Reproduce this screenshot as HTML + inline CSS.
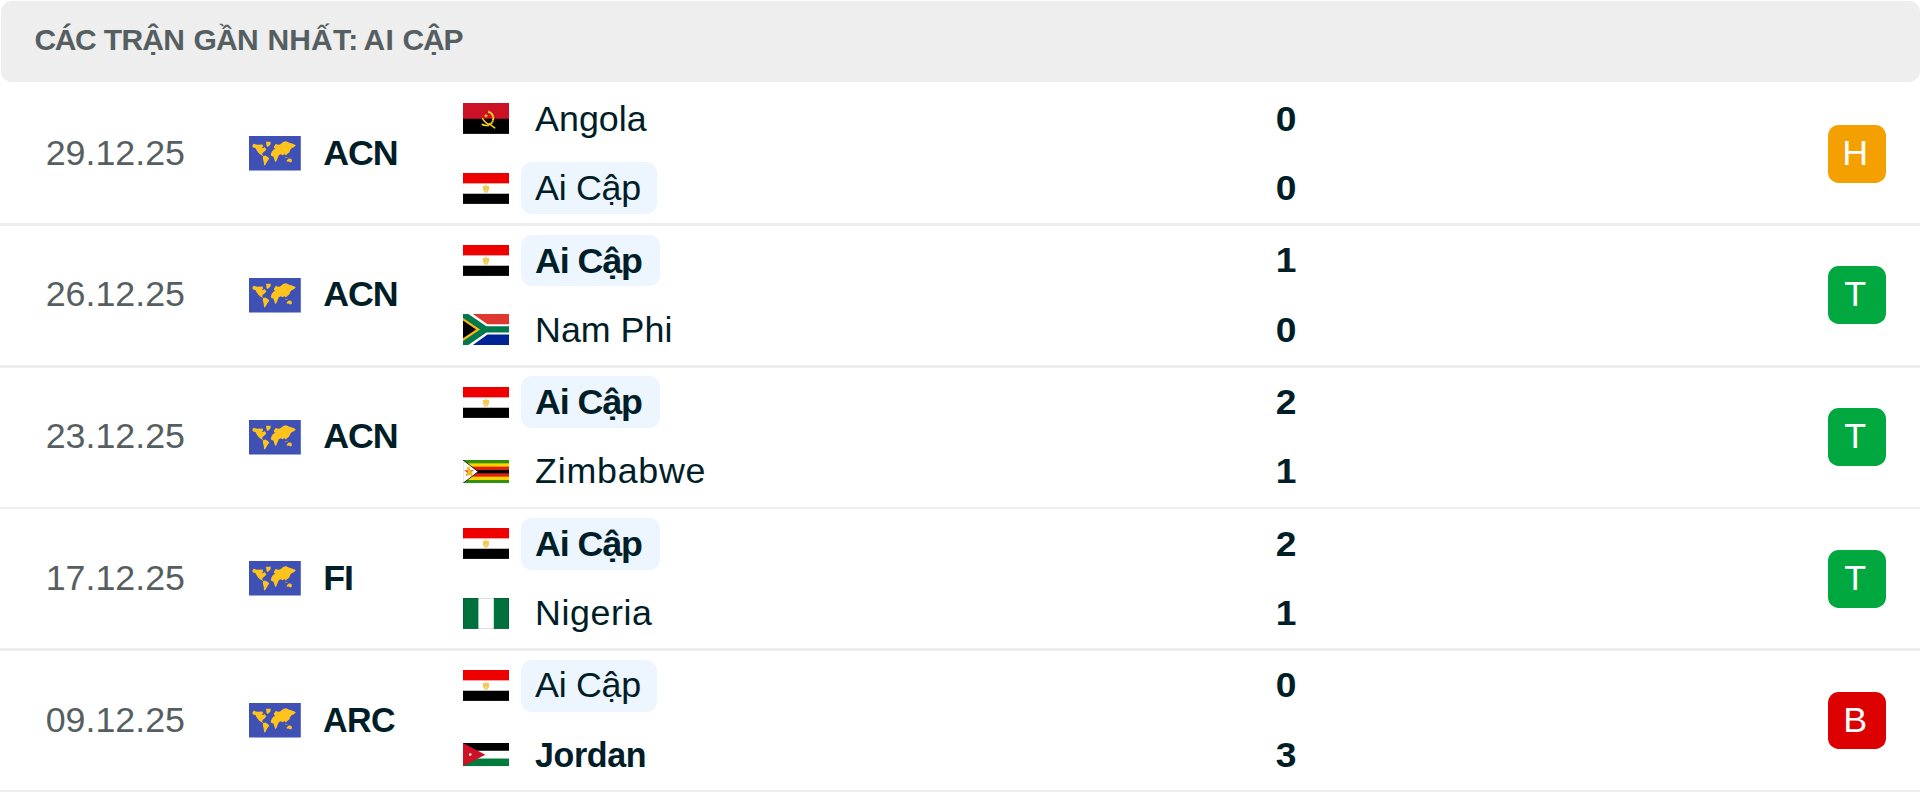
<!DOCTYPE html>
<html lang="vi">
<head>
<meta charset="utf-8">
<title>Các trận gần nhất: Ai Cập</title>
<style>
html,body{margin:0;padding:0;background:#fff;}
body{width:1920px;height:792px;position:relative;overflow:hidden;font-family:"Liberation Sans",sans-serif;color:#001e28;}
.hdr{position:absolute;left:0.6px;top:0.6px;width:1919.2px;height:81px;background:#eeeeee;border-radius:10.67px;}
.hdr span{position:absolute;top:22px;font-size:30px;font-weight:700;color:#555e61;line-height:34px;white-space:nowrap;}
.row{position:absolute;left:0;width:1920px;height:138.9px;}
.sep{position:absolute;left:0;width:1920px;height:2.8px;background:#eeeeee;}
.date{position:absolute;left:45.7px;top:47.5px;font-size:35.8px;line-height:42px;color:#555e61;white-space:nowrap;}
.globe{position:absolute;left:249.1px;top:52.1px;width:51.9px;height:34.7px;}
.lg{position:absolute;left:323.2px;top:47.5px;font-size:35.8px;line-height:42px;font-weight:700;letter-spacing:-1.1px;white-space:nowrap;}
.flag{position:absolute;left:463.1px;width:46px;}
.f32{height:30.9px;}
.f21{height:23.3px;}
.a1.f32{top:19.1px;}
.a2.f32{top:88.6px;}
.a1.f21{top:22.9px;}
.a2.f21{top:92.4px;}
.tm{position:absolute;left:520.6px;height:51.9px;line-height:52px;font-size:35.8px;padding:0 16.5px 0 14.5px;letter-spacing:0;border-radius:10.67px;white-space:nowrap;}
.t1{top:8.7px;}
.t2{top:78.1px;}
.hl{background:#edf5ff;box-sizing:border-box;width:136.3px;}
.hl.b{width:139px;}
.hl:not(.b){letter-spacing:-0.3px;}
.b{font-weight:700;letter-spacing:-1.1px;}
.sq{display:inline-block;transform:scaleX(0.95);transform-origin:0 50%;}
.sc{position:absolute;left:1255.6px;width:60px;text-align:center;font-size:35.8px;font-weight:700;line-height:42px;transform:scaleX(1.04);}
.s1{top:13.45px;}
.s2{top:82.9px;}
.bd{position:absolute;left:1827.9px;top:40.6px;width:57.7px;height:57.9px;border-radius:10.67px;color:#fff;font-size:35.8px;line-height:57.8px;text-align:center;box-sizing:border-box;padding-right:3px;}
.H{background:#f3a000;}
.T{background:#00a83f;}
.B{background:#dc0000;}
</style>
</head>
<body>
<svg width="0" height="0" style="position:absolute">
<defs>
<symbol id="globe" viewBox="0 0 52 34.7" preserveAspectRatio="none">
<rect width="52" height="34.7" fill="#3f51b5"/>
<path fill="#ffc31e" d="M3.2 9.9 L4.6 7.8 L8.4 8.7 L13.6 8.4 L14.2 10.5 L13.1 11.6 L13.9 12.2 L15.7 11.0 L17.4 13.4 L16.3 14.8 L13.6 17.1 L13.1 18.6 L14.5 19.2 L13.6 19.7 L11.3 18.6 L9.6 17.1 L7.8 14.5 L6.4 11.9 L4.1 11.6Z M17.0 5.8 L21.8 5.8 L21.5 8.4 L18.9 11.0 L17.7 10.2Z M13.9 20.3 L16.3 19.5 L18.9 20.9 L20.3 22.4 L18.3 25.6 L16.3 29.0 L15.1 29.6 L14.8 26.1 L13.9 22.6Z M25.0 10.5 L27.0 7.8 L28.7 8.7 L31.1 8.4 L34.6 5.8 L37.2 5.2 L40.4 6.7 L43.8 7.8 L47.0 9.3 L45.0 11.3 L42.7 12.2 L41.2 13.9 L40.4 16.6 L38.9 17.4 L36.9 19.5 L35.4 18.0 L34.0 19.2 L31.6 18.3 L29.9 19.2 L28.7 22.1 L27.3 25.6 L26.1 25.8 L25.0 22.1 L24.4 20.6 L22.4 20.0 L21.8 18.3 L22.9 15.7 L24.1 13.9 L26.4 12.8 L25.0 11.9Z M37.7 24.4 L39.8 22.6 L41.5 22.4 L43.0 23.8 L42.7 26.1 L41.2 26.4 L39.8 25.6 L38.0 25.8Z M35.7 20.9 L38.6 21.2 L38.9 21.8 L36.3 21.6Z"/>
</symbol>
<symbol id="ao" viewBox="0 0 46 31" preserveAspectRatio="none">
<rect width="46" height="31" fill="#000"/>
<rect width="46" height="15.8" fill="#cc1126"/>
<path d="M25.2 8.7 A7 7 0 0 1 24.5 22.3" fill="none" stroke="#f9d616" stroke-width="1.2"/><path d="M25.2 8.7 A7 7 0 0 1 24.5 22.3" fill="none" stroke="#f9d616" stroke-width="2.2" stroke-dasharray="1.1 0.8"/>
<path d="M24.8 22.4 Q21.5 23 18.8 21.3" fill="none" stroke="#f9d616" stroke-width="1.7"/>
<path d="M19.6 15.6 Q22.5 20.6 27 21.5 L31.8 25" fill="none" stroke="#f9d616" stroke-width="1.4" stroke-linecap="round"/>
<path d="M23 10.6 l0.6 1.6 1.7 0 -1.4 1 0.6 1.7 -1.5 -1.1 -1.5 1.1 0.6 -1.7 -1.4 -1 1.7 0z" fill="#f9d616"/>
</symbol>
<symbol id="eg" viewBox="0 0 46 31" preserveAspectRatio="none">
<rect width="46" height="31" fill="#fff"/>
<rect width="46" height="10.4" fill="#ee0000"/>
<rect y="20.8" width="46" height="10.2" fill="#000"/>
<path d="M22.6 11.6 h0.8 l0.3 1.6 1.6 -0.4 0.7 0.5 -0.1 4 -1.3 1.2 0.3 1 h-3.8 l0.3 -1 -1.3 -1.2 -0.1 -4 0.7 -0.5 1.6 0.4z" fill="#f4c84e"/><path d="M22.3 16.6 h1.4 v1.6 h-1.4z" fill="#fff" fill-opacity="0.55"/>
<rect x="0.25" y="0.25" width="45.5" height="30.5" fill="none" stroke="#000" stroke-opacity="0.05" stroke-width="0.5"/>
</symbol>
<symbol id="za" viewBox="0 0 46 31" preserveAspectRatio="none">
<rect width="46" height="31" fill="#fff"/>
<path d="M9.8 0 H46 V10.4 H24.5z" fill="#de3831"/>
<path d="M9.8 31 H46 V20.6 H24.5z" fill="#002395"/>
<path d="M0 0 H5.3 L23.4 12.4 H46 V18.6 H23.4 L5.3 31 H0z" fill="#007a4d"/>
<path d="M0 4 L17.2 15.5 L0 27z" fill="#ffb612"/>
<path d="M0 6.6 L13.1 15.5 L0 24.4z" fill="#000"/>
</symbol>
<symbol id="zw" viewBox="0 0 46 23.3" preserveAspectRatio="none">
<rect width="46" height="23.3" fill="#319208"/>
<rect y="3.33" width="46" height="16.64" fill="#ffd200"/>
<rect y="6.66" width="46" height="9.98" fill="#de2010"/>
<rect y="9.99" width="46" height="3.32" fill="#000"/>
<path d="M0 0 L15.2 11.65 L0 23.3z" fill="#fff"/>
<path d="M0 0 L15.2 11.65 L0 23.3" fill="none" stroke="#000" stroke-width="0.8"/>
<path d="M0.2 0 V23.3" stroke="#000" stroke-opacity="0.3" stroke-width="0.4"/>
<path d="M6.0 6.7 L7.2 10.3 L10.9 10.3 L7.9 12.5 L9.1 16.1 L6.0 13.9 L2.9 16.1 L4.1 12.5 L1.1 10.3 L4.8 10.3z" fill="#e8392c"/>
<path d="M3.2 7.6 L5.2 7 L6.4 8.6 L7.4 10.6 L9.6 12 L9.2 15 L3.8 15.2 L4.6 11.4 L4.2 8.8z" fill="#f4c018"/>
</symbol>
<symbol id="ng" viewBox="0 0 46 31" preserveAspectRatio="none">
<rect width="46" height="31" fill="#fff"/>
<rect width="15.4" height="31" fill="#00713d"/>
<rect x="30.8" width="15.2" height="31" fill="#00713d"/>
<rect x="0.3" y="0.3" width="45.4" height="30.4" fill="none" stroke="#000" stroke-opacity="0.22" stroke-width="0.6"/>
</symbol>
<symbol id="jo" viewBox="0 0 46 23.3" preserveAspectRatio="none">
<rect width="46" height="23.3" fill="#fff"/>
<rect width="46" height="7.77" fill="#000"/>
<rect y="15.53" width="46" height="7.77" fill="#007a3d"/>
<path d="M0 0 L22.4 11.65 L0 23.3z" fill="#ce1126"/>
<circle cx="7.2" cy="11.6" r="1.25" fill="#fff"/>
</symbol>
</defs>
</svg>

<div class="hdr"><span style="left:33.8px;letter-spacing:-1.4px">CÁC </span><span style="left:103.2px;letter-spacing:-0.7px">TRẬN </span><span style="left:193px;letter-spacing:-0.85px">GẦN </span><span style="left:266.8px;letter-spacing:0.2px">NHẤT: </span><span style="left:362.8px;letter-spacing:0.4px">AI </span><span style="left:401.9px;letter-spacing:-1.1px">CẬP</span></div>

<div class="row" style="top:84.1px">
  <div class="date">29.12.25</div>
  <svg class="globe"><use href="#globe"/></svg>
  <div class="lg">ACN</div>
  <svg class="flag f32 a1"><use href="#ao"/></svg>
  <svg class="flag f32 a2"><use href="#eg"/></svg>
  <div class="tm t1">Angola</div>
  <div class="tm t2 hl">Ai Cập</div>
  <div class="sc s1">0</div><div class="sc s2">0</div>
  <div class="bd H">H</div>
</div>
<div class="sep" style="top:223.1px"></div>

<div class="row" style="top:225.9px">
  <div class="date">26.12.25</div>
  <svg class="globe"><use href="#globe"/></svg>
  <div class="lg">ACN</div>
  <svg class="flag f32 a1"><use href="#eg"/></svg>
  <svg class="flag f32 a2"><use href="#za"/></svg>
  <div class="tm t1 hl b">Ai Cập</div>
  <div class="tm t2">Nam Phi</div>
  <div class="sc s1">1</div><div class="sc s2">0</div>
  <div class="bd T">T</div>
</div>
<div class="sep" style="top:365px"></div>

<div class="row" style="top:367.75px">
  <div class="date">23.12.25</div>
  <svg class="globe"><use href="#globe"/></svg>
  <div class="lg">ACN</div>
  <svg class="flag f32 a1"><use href="#eg"/></svg>
  <svg class="flag f21 a2"><use href="#zw"/></svg>
  <div class="tm t1 hl b">Ai Cập</div>
  <div class="tm t2" style="line-height:50px;letter-spacing:0.75px">Zimbabwe</div>
  <div class="sc s1">2</div><div class="sc s2" style="top:81.9px">1</div>
  <div class="bd T">T</div>
</div>
<div class="sep" style="top:506.6px"></div>

<div class="row" style="top:509.4px">
  <div class="date">17.12.25</div>
  <svg class="globe"><use href="#globe"/></svg>
  <div class="lg">FI</div>
  <svg class="flag f32 a1"><use href="#eg"/></svg>
  <svg class="flag f32 a2"><use href="#ng"/></svg>
  <div class="tm t1 hl b">Ai Cập</div>
  <div class="tm t2" style="letter-spacing:0.55px">Nigeria</div>
  <div class="sc s1">2</div><div class="sc s2">1</div>
  <div class="bd T">T</div>
</div>
<div class="sep" style="top:648.2px"></div>

<div class="row" style="top:651px">
  <div class="date">09.12.25</div>
  <svg class="globe"><use href="#globe"/></svg>
  <div class="lg" style="letter-spacing:-0.6px"><span class="sq">ARC</span></div>
  <svg class="flag f32 a1"><use href="#eg"/></svg>
  <svg class="flag f21 a2"><use href="#jo"/></svg>
  <div class="tm t1 hl" style="line-height:50.5px">Ai Cập</div>
  <div class="tm t2 b" style="letter-spacing:-0.4px"><span class="sq">Jordan</span></div>
  <div class="sc s1">0</div><div class="sc s2">3</div>
  <div class="bd B">B</div>
</div>
<div class="sep" style="top:789.6px"></div>
</body>
</html>
